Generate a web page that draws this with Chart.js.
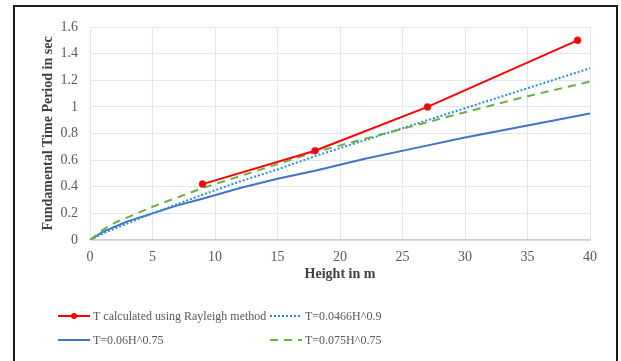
<!DOCTYPE html>
<html>
<head>
<meta charset="utf-8">
<script src="https://cdn.jsdelivr.net/npm/chart.js@4/dist/chart.umd.min.js"></script>
<style>
    html, body { margin: 0; padding: 0; background: #ffffff; }
    #wrap { position: relative; width: 621px; height: 361px; }
</style>
</head>
<body>
<div id="wrap"><canvas id="chart" width="621" height="361"></canvas></div>
<script>
// Chart data

// Heights (m) where the empirical curves are sampled
const heights = [0, 1, 2, 3, 5, 7, 9, 12, 15, 18, 22, 26, 30, 35, 40];

// Rayleigh method points
const rayleighH = [9, 18, 27, 39];
const rayleighT = [0.42, 0.67, 1.0, 1.5];

// T=0.0466H^0.9 (dotted)
const code0466 = [0, 0.047, 0.087, 0.125, 0.20, 0.27, 0.34, 0.44, 0.53, 0.63, 0.75, 0.87, 0.99, 1.14, 1.29];
// T=0.06H^0.75 (solid blue)
const code006 = [0, 0.06, 0.10, 0.14, 0.20, 0.26, 0.31, 0.39, 0.46, 0.52, 0.61, 0.69, 0.77, 0.86, 0.95];
// T=0.075H^0.75 (dashed green)
const code0075 = [0, 0.075, 0.13, 0.17, 0.25, 0.32, 0.39, 0.48, 0.57, 0.66, 0.76, 0.86, 0.96, 1.08, 1.19];

const seriesLabels = [
    'T calculated using Rayleigh method',
    'T=0.0466H^0.9',
    'T=0.06H^0.75',
    'T=0.075H^0.75'
];

const xTicks = [0, 5, 10, 15, 20, 25, 30, 35, 40];
const yTicks = [0, 0.2, 0.4, 0.6, 0.8, 1, 1.2, 1.4, 1.6];

function toPoints(xs, ys) {
    return xs.map((x, i) => ({ x: x, y: ys[i] }));
}

const serif = "'Liberation Serif', 'Times New Roman', serif";
const tickColor = '#595959';
const titleColor = '#404040';

// legend slots: [lineStartX, y] per dataset index
const legendSlots = [
    [58, 316],
    [270, 316],
    [58, 340],
    [270, 340]
];

const framePlugin = {
    id: 'frame',
    afterDraw(chart) {
        const ctx = chart.ctx;
        ctx.save();
        ctx.strokeStyle = '#1a1a1a';
        ctx.lineWidth = 2;
        ctx.strokeRect(14, 6, 603, 400);
        ctx.restore();
    }
};

const legendPlugin = {
    id: 'sideLegend',
    afterDraw(chart) {
        const ctx = chart.ctx;
        ctx.save();
        ctx.font = '12px ' + serif;
        ctx.textBaseline = 'middle';
        chart.data.datasets.forEach(function (ds, i) {
            const [x, y] = legendSlots[i];
            ctx.beginPath();
            ctx.strokeStyle = ds.borderColor;
            ctx.lineWidth = ds.borderWidth;
            ctx.setLineDash(ds.borderDash || []);
            ctx.moveTo(x, y);
            ctx.lineTo(x + 32, y);
            ctx.stroke();
            ctx.setLineDash([]);
            if (ds.pointRadius > 0) {
                ctx.beginPath();
                ctx.fillStyle = ds.pointBackgroundColor;
                ctx.arc(x + 16, y, 3, 0, Math.PI * 2);
                ctx.fill();
            }
            ctx.fillStyle = tickColor;
            ctx.fillText(ds.label, x + 35, y + 1);
        });
        ctx.restore();
    }
};

const ctx = document.getElementById('chart').getContext('2d');
new Chart(ctx, {
    type: 'scatter',
    data: {
        datasets: [
            {
                label: seriesLabels[0],
                data: toPoints(rayleighH, rayleighT),
                showLine: true,
                borderColor: '#ff0000',
                backgroundColor: '#ff0000',
                pointBackgroundColor: '#ff0000',
                pointBorderColor: 'rgba(200, 60, 60, 0.6)',
                pointBorderWidth: 1,
                borderWidth: 2,
                pointRadius: 3.5,
                order: 0
            },
            {
                label: seriesLabels[1],
                data: toPoints(heights, code0466),
                showLine: true,
                borderColor: '#2e8bd8',
                borderWidth: 2,
                borderDash: [2, 2],
                pointRadius: 0,
                order: 2
            },
            {
                label: seriesLabels[2],
                data: toPoints(heights, code006),
                showLine: true,
                borderColor: '#4472c4',
                borderWidth: 2,
                pointRadius: 0,
                order: 3
            },
            {
                label: seriesLabels[3],
                data: toPoints(heights, code0075),
                showLine: true,
                borderColor: '#70ad47',
                borderWidth: 2,
                borderDash: [8, 6],
                pointRadius: 0,
                order: 1
            }
        ]
    },
    options: {
        responsive: false,
        animation: false,
        layout: { padding: { left: 0, right: 31, top: 27, bottom: 0 } },
        plugins: {
            legend: { display: false },
            tooltip: { enabled: false }
        },
        scales: {
            x: {
                type: 'linear',
                min: 0,
                max: 40,
                afterBuildTicks: function (scale) {
                    scale.ticks = xTicks.map(v => ({ value: v }));
                },
                afterFit: function (scale) { scale.height = 121; },
                grid: { color: '#e3e6ec', drawTicks: false },
                border: { color: '#c9ced6', width: 1.5 },
                ticks: {
                    color: tickColor,
                    padding: 9,
                    font: { family: serif, size: 14 }
                },
                title: {
                    display: true,
                    text: 'Height in m',
                    color: titleColor,
                    font: { family: serif, size: 14, weight: 'bold' },
                    padding: { top: 0, bottom: 78 }
                }
            },
            y: {
                type: 'linear',
                min: 0,
                max: 1.6,
                afterBuildTicks: function (scale) {
                    scale.ticks = yTicks.map(v => ({ value: v }));
                },
                afterFit: function (scale) { scale.width = 90; },
                grid: { color: '#e3e6ec', drawTicks: false },
                border: { color: '#e3e6ec' },
                ticks: {
                    color: tickColor,
                    padding: 12,
                    font: { family: serif, size: 14 },
                    callback: v => String(Math.round(v * 10) / 10)
                },
                title: {
                    display: true,
                    text: 'Fundamental Time Period in sec',
                    color: titleColor,
                    font: { family: serif, size: 14, weight: 'bold' },
                    padding: { top: 40, bottom: 0 }
                }
            }
        }
    },
    plugins: [framePlugin, legendPlugin]
});
</script>
</body>
</html>
